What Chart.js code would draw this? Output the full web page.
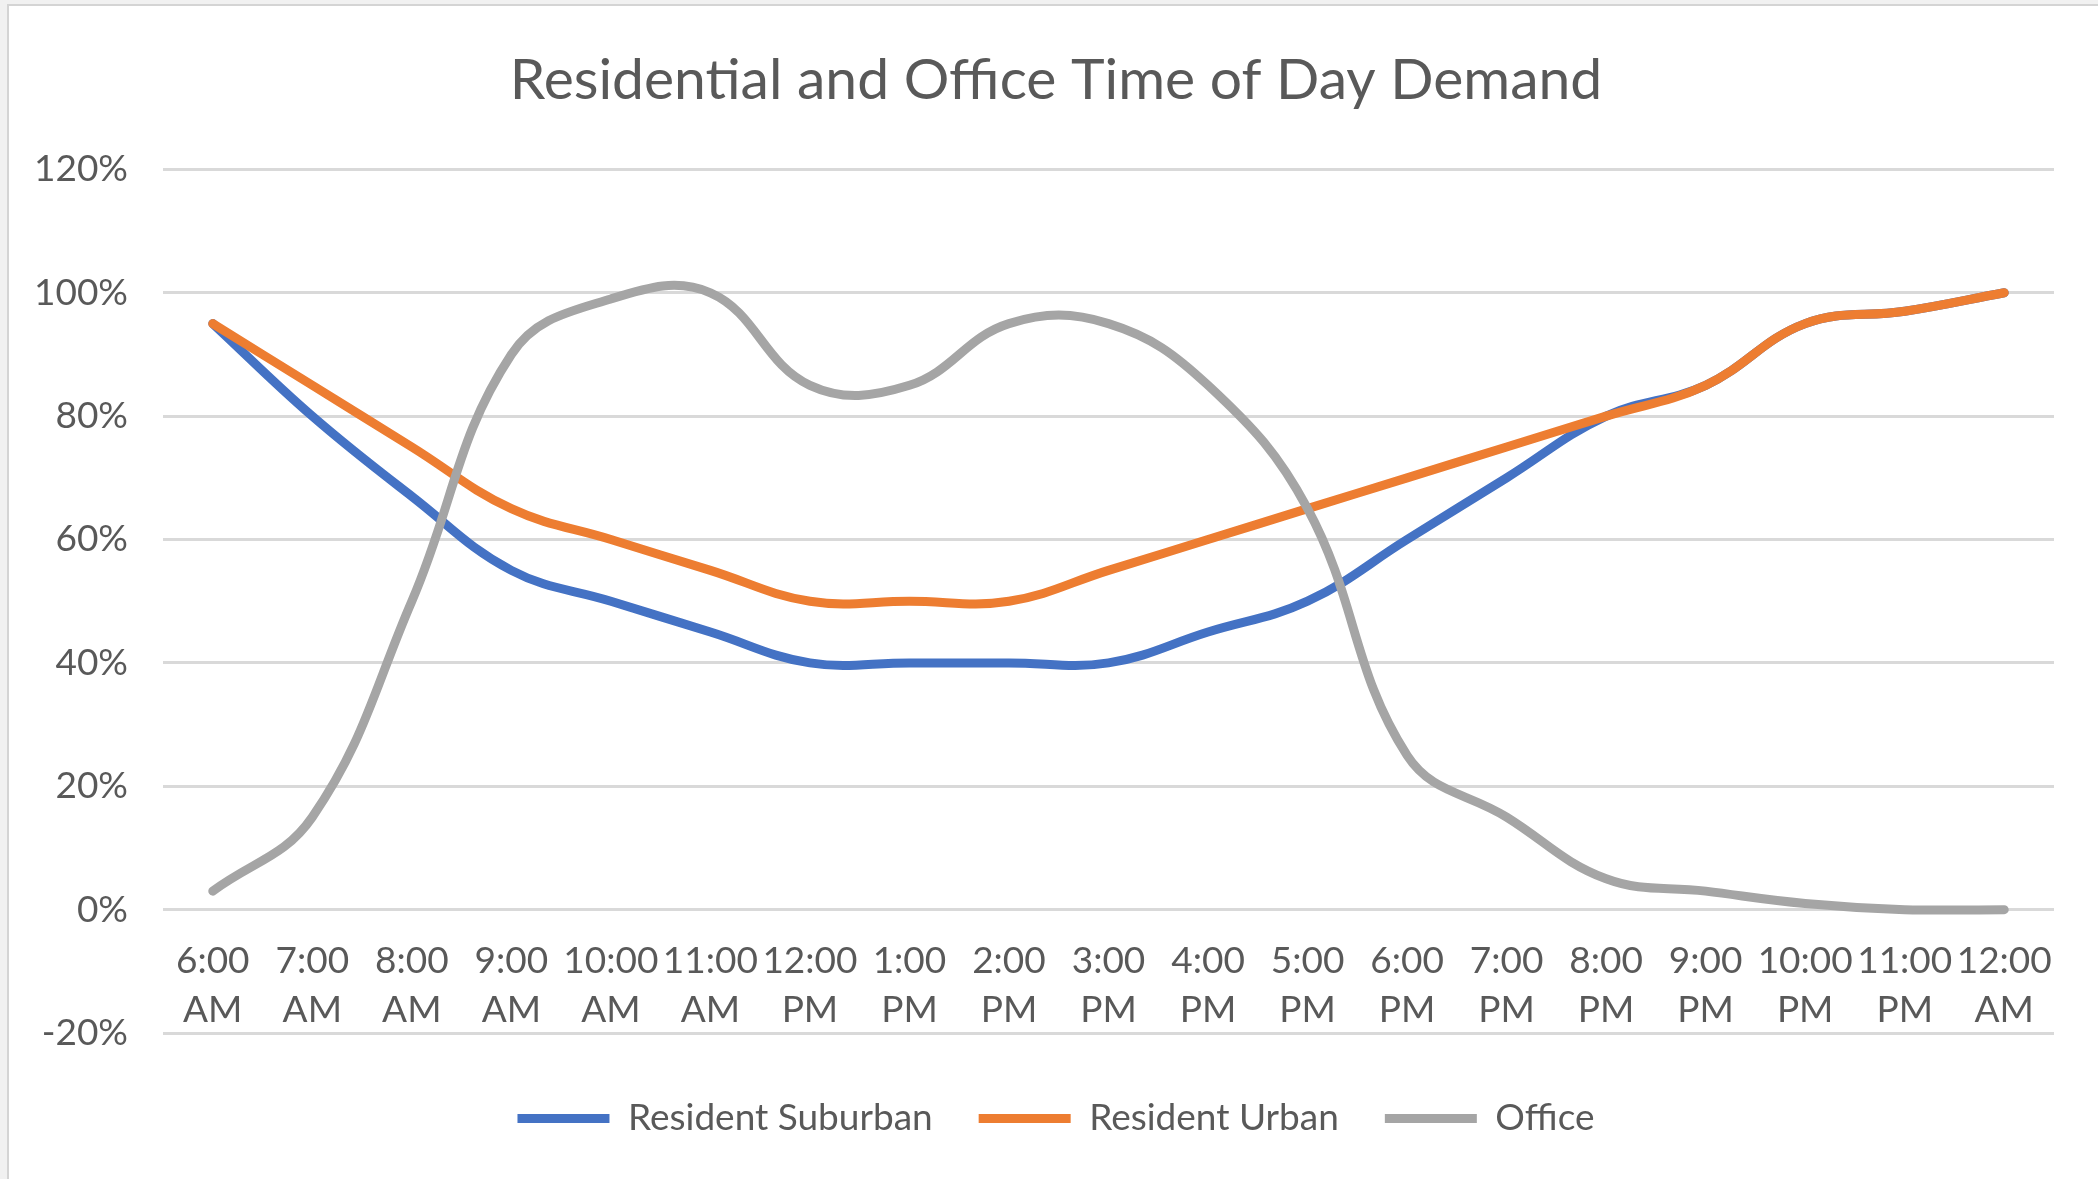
<!DOCTYPE html>
<html>
<head>
<meta charset="utf-8">
<title>Residential and Office Time of Day Demand</title>
<script src="https://cdn.jsdelivr.net/npm/chart.js@4.4.1/dist/chart.umd.min.js"></script>
<style>
  html, body { margin: 0; padding: 0; background: #f1f1f1; overflow: hidden; }
  #frame { position: absolute; left: 7px; top: 4px; right: 0; bottom: 0; background: #fff;
           border-left: 2px solid #d4d4d4; border-top: 2px solid #d4d4d4; }
  #demandChart { position: absolute; left: 0; top: 0; }
</style>
</head>
<body>
<div id="frame"></div>
<canvas id="demandChart" width="2098" height="1179"></canvas>
<script>
// hours of the day (category axis)
const hours = ["6:00 AM", "7:00 AM", "8:00 AM", "9:00 AM", "10:00 AM", "11:00 AM", "12:00 PM",
  "1:00 PM", "2:00 PM", "3:00 PM", "4:00 PM", "5:00 PM", "6:00 PM", "7:00 PM", "8:00 PM",
  "9:00 PM", "10:00 PM", "11:00 PM", "12:00 AM"];

// demand in percent
const residentSuburban = [95, 80, 67, 55, 50, 45, 40, 40, 40, 40, 45, 50, 60, 70, 80, 85, 95, 97, 100];
const residentUrban = [95, 85, 75, 65, 60, 55, 50, 50, 50, 55, 60, 65, 70, 75, 80, 85, 95, 97, 100];
const office = [3, 15, 50, 90, 99, 100, 85, 85, 95, 95, 85, 65, 25, 15, 5, 3, 1, 0, 0];

// value axis ticks
const yTicks = [-20, 0, 20, 40, 60, 80, 100, 120];

const textColor = "#595959";
const fontName = "Lato";

function drawChart() {
  const ctx = document.getElementById("demandChart").getContext("2d");

  const line = (label, data, color, order) => ({
    label: label,
    data: data,
    borderColor: color,
    backgroundColor: color,
    borderWidth: 9,
    borderCapStyle: "round",
    borderJoinStyle: "round",
    pointRadius: 0,
    tension: 0.4,
    fill: false,
    order: order,
  });

  new Chart(ctx, {
    type: "line",
    data: {
      labels: hours,
      datasets: [
        line("Resident Suburban", residentSuburban, "#4472C4", 2),
        line("Resident Urban", residentUrban, "#ED7D31", 1),
        line("Office", office, "#A5A5A5", 0),
      ],
    },
    options: {
      responsive: false,
      animation: false,
      devicePixelRatio: 1,
      layout: { padding: { left: 14, right: 0, top: 0, bottom: 32 } },
      plugins: {
        tooltip: { enabled: false },
        title: {
          display: true,
          text: "Residential and Office Time of Day Demand",
          color: textColor,
          font: { family: fontName, size: 57, weight: "normal", lineHeight: 1.2 },
          padding: { top: 46, bottom: 55 },
        },
        legend: {
          position: "bottom",
          // empty legend title only adds space between the plot and the legend row
          title: { display: true, text: "", padding: 0, font: { size: 21, lineHeight: 1 } },
          labels: {
            color: textColor,
            font: { family: fontName, size: 37 },
            usePointStyle: true,
            pointStyle: "line",
            pointStyleWidth: 92,
            boxWidth: 92,
            padding: 46,
            sort: (a, b) => a.datasetIndex - b.datasetIndex,
          },
        },
      },
      scales: {
        x: {
          position: { y: 0 },
          offset: true,
          grid: { display: false, drawTicks: false },
          border: { display: false },
          ticks: {
            color: textColor,
            font: { family: fontName, size: 37, lineHeight: 1.33 },
            padding: 27,
            autoSkip: false,
            maxRotation: 0,
            minRotation: 0,
            callback: (v, i) => hours[i].split(" "),
          },
        },
        y: {
          min: yTicks[0],
          max: yTicks[yTicks.length - 1],
          afterBuildTicks: (scale) => { scale.ticks = yTicks.map((v) => ({ value: v })); },
          grid: { color: "#D9D9D9", lineWidth: 3, drawTicks: false },
          border: { display: false },
          ticks: {
            color: textColor,
            font: { family: fontName, size: 37 },
            padding: 35,
            callback: (v) => v + "%",
          },
          afterFit: (scale) => { scale.width = 149; },
        },
        // blank right margin of the plot area
        yRight: {
          type: "linear",
          position: "right",
          grid: { display: false, drawTicks: false },
          border: { display: false },
          ticks: { display: false },
          afterFit: (scale) => { scale.width = 44; },
        },
      },
    },
  });
}

document.fonts.load("37px " + fontName).then(drawChart, drawChart);
</script>
</body>
</html>
